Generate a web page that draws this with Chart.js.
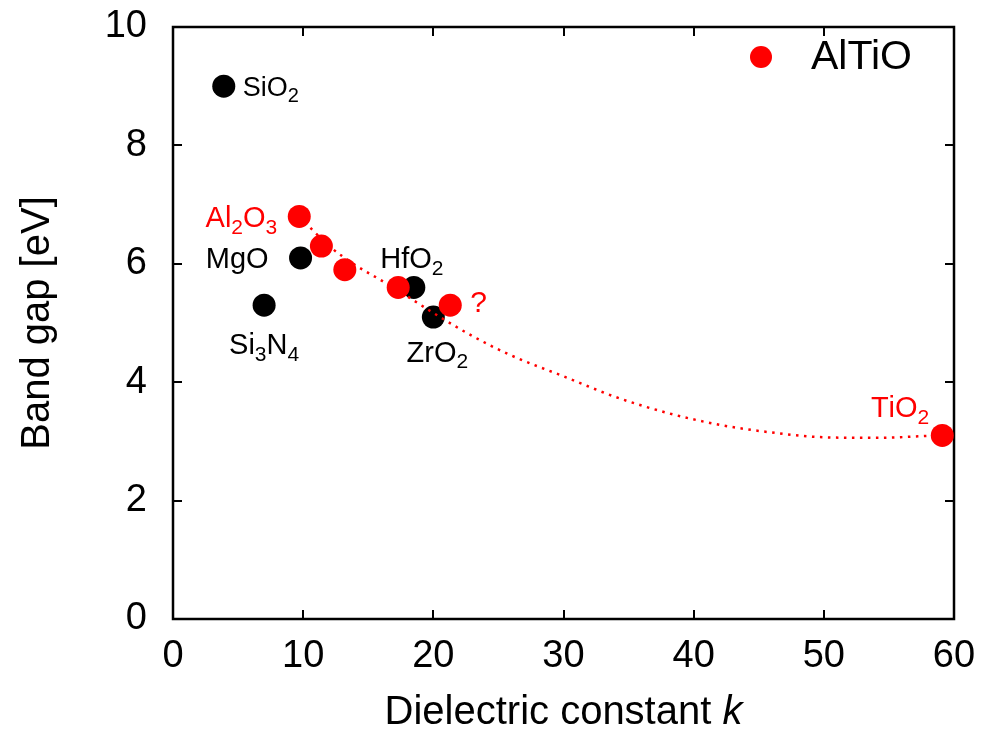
<!DOCTYPE html>
<html>
<head>
<meta charset="utf-8">
<script src="https://cdn.jsdelivr.net/npm/chart.js@4.4.0/dist/chart.umd.min.js"></script>
<style>
  body { margin: 0; background: #fff; }
</style>
</head>
<body>
<canvas id="gapChart" width="987" height="738"></canvas>
<script>
// conventional dielectrics
const oxideNames = ['SiO_2', 'Si_3N_4', 'MgO', 'HfO_2', 'ZrO_2'];
const oxideK = [3.9, 7.0, 9.8, 18.5, 20.0];
const oxideGap = [9.0, 5.3, 6.1, 5.6, 5.1];

// AlTiO compositions, Al2O3 end to TiO2 end
const altioK = [9.7, 11.4, 13.2, 17.3, 21.3, 59.1];
const altioGap = [6.8, 6.3, 5.9, 5.6, 5.3, 3.1];

// dotted trend through the AlTiO series
const trendK = [9.7, 12, 14, 16, 18, 20, 23, 26, 30, 34, 38, 42, 46, 50, 54, 58.6];
const trendGap = [6.8, 6.3, 5.98, 5.72, 5.45, 5.17, 4.78, 4.45, 4.1, 3.75, 3.48, 3.28, 3.15, 3.07, 3.06, 3.1];

const xTicks = [0, 10, 20, 30, 40, 50, 60];
const yTicks = [0, 2, 4, 6, 8, 10];

const FONT = '"Liberation Sans", Arial, Helvetica, sans-serif';
const RED = '#ff0000';

const toXY = (xs, ys) => xs.map((v, i) => ({ x: v, y: ys[i] }));

// text with "_n" subscripts, vertically centred on y
function drawRich(ctx, text, x, y, align, size, color) {
  const parts = [];
  for (let i = 0; i < text.length; i++) {
    if (text[i] === '_') { parts.push({ s: text[i + 1], sub: true }); i++; }
    else parts.push({ s: text[i], sub: false });
  }
  const main = size + 'px ' + FONT;
  const small = Math.round(size * 0.74) + 'px ' + FONT;
  let w = 0;
  parts.forEach(p => { ctx.font = p.sub ? small : main; p.w = ctx.measureText(p.s).width; w += p.w; });
  let cx = align === 'left' ? x : align === 'right' ? x - w : x - w / 2;
  const base = y + size * 0.36;
  ctx.fillStyle = color;
  ctx.textAlign = 'left';
  ctx.textBaseline = 'alphabetic';
  parts.forEach(p => {
    ctx.font = p.sub ? small : main;
    ctx.fillText(p.s, cx, p.sub ? base + size * 0.24 : base);
    cx += p.w;
  });
}

const notes = [
  { text: oxideNames[0], k: oxideK[0], g: oxideGap[0], dx: 19, dy: 0, align: 'left', color: '#000', size: 27 },
  { text: oxideNames[1], k: oxideK[1], g: oxideGap[1], dx: 0, dy: 38, align: 'center', color: '#000', size: 29 },
  { text: oxideNames[2], k: oxideK[2], g: oxideGap[2], dx: -32, dy: 0, align: 'right', color: '#000', size: 29 },
  { text: oxideNames[3], k: oxideK[3], g: oxideGap[3], dx: -2, dy: -30, align: 'center', color: '#000', size: 29 },
  { text: oxideNames[4], k: oxideK[4], g: oxideGap[4], dx: 4, dy: 34, align: 'center', color: '#000', size: 29 },
  { text: 'Al_2O_3', k: altioK[0], g: altioGap[0], dx: -22, dy: 0, align: 'right', color: RED, size: 29 },
  { text: '?', k: altioK[4], g: altioGap[4], dx: 20, dy: -4, align: 'left', color: RED, size: 30 },
  { text: 'TiO_2', k: altioK[5], g: altioGap[5], dx: -13, dy: -29, align: 'right', color: RED, size: 29 }
];

const frame = {
  id: 'frame',
  beforeDatasetsDraw(chart) {
    const { ctx, chartArea: a, scales: { x, y } } = chart;
    ctx.save();
    ctx.strokeStyle = '#000';
    ctx.lineWidth = 2;
    ctx.beginPath();
    xTicks.forEach(v => {
      const px = Math.round(x.getPixelForValue(v));
      ctx.moveTo(px, a.bottom); ctx.lineTo(px, a.bottom - 9);
      ctx.moveTo(px, a.top); ctx.lineTo(px, a.top + 9);
    });
    yTicks.forEach(v => {
      const py = Math.round(y.getPixelForValue(v));
      ctx.moveTo(a.left, py); ctx.lineTo(a.left + 9, py);
      ctx.moveTo(a.right, py); ctx.lineTo(a.right - 9, py);
    });
    ctx.stroke();
    ctx.lineWidth = 2.5;
    ctx.strokeRect(a.left, a.top, a.width, a.height);
    ctx.restore();
  },
  afterDraw(chart) {
    const { ctx, chartArea: a, scales: { x, y } } = chart;
    ctx.save();
    notes.forEach(n => {
      drawRich(ctx, n.text, x.getPixelForValue(n.k) + n.dx, y.getPixelForValue(n.g) + n.dy, n.align, n.size, n.color);
    });

    // legend entry
    ctx.fillStyle = RED;
    ctx.beginPath();
    ctx.arc(a.right - 193, a.top + 30, 11, 0, Math.PI * 2);
    ctx.fill();
    ctx.fillStyle = '#000';
    ctx.font = '41px ' + FONT;
    ctx.textAlign = 'left';
    ctx.textBaseline = 'middle';
    ctx.fillText('AlTiO', a.right - 143, a.top + 31);

    // axis titles
    const title = '40px ' + FONT;
    const t1 = 'Dielectric constant ';
    ctx.font = 'italic 40px ' + FONT;
    const wk = ctx.measureText('k').width;
    ctx.font = title;
    const w1 = ctx.measureText(t1).width;
    const cx = (a.left + a.right) / 2;
    const sx = cx - (w1 + wk) / 2;
    ctx.fillText(t1, sx, 713);
    ctx.font = 'italic 40px ' + FONT;
    ctx.fillText('k', sx + w1, 713);

    ctx.font = title;
    ctx.textAlign = 'center';
    ctx.translate(38, (a.top + a.bottom) / 2);
    ctx.rotate(-Math.PI / 2);
    ctx.fillText('Band gap [eV]', 0, 0);
    ctx.restore();
  }
};

const ctx = document.getElementById('gapChart').getContext('2d');
const gapChart = new Chart(ctx, {
  type: 'scatter',
  data: {
    datasets: [
      {
        label: 'trend',
        type: 'line',
        data: toXY(trendK, trendGap),
        borderColor: RED,
        borderWidth: 2.5,
        borderDash: [2.5, 5.5],
        pointRadius: 0,
        cubicInterpolationMode: 'monotone',
        fill: false,
        clip: false,
        order: 0
      },
      {
        label: 'AlTiO',
        data: toXY(altioK, altioGap),
        backgroundColor: RED,
        borderWidth: 0,
        pointRadius: 11.5,
        clip: false,
        order: 1
      },
      {
        label: 'oxides',
        data: toXY(oxideK, oxideGap),
        backgroundColor: '#000',
        borderWidth: 0,
        pointRadius: 11.5,
        clip: false,
        order: 2
      }
    ]
  },
  options: {
    responsive: false,
    animation: false,
    layout: { padding: { left: 0, right: 33, top: 27, bottom: 0 } },
    plugins: {
      legend: { display: false },
      tooltip: { enabled: false }
    },
    scales: {
      x: {
        type: 'linear',
        min: 0,
        max: 60,
        afterBuildTicks: s => { s.ticks = xTicks.map(v => ({ value: v })); },
        afterFit: s => { s.height = 119; s.paddingLeft = 0; s.paddingRight = 0; },
        grid: { display: false, drawTicks: false },
        border: { display: false },
        ticks: {
          padding: 15,
          color: '#000',
          font: { family: FONT, size: 38 }
        }
      },
      y: {
        type: 'linear',
        min: 0,
        max: 10,
        afterBuildTicks: s => { s.ticks = yTicks.map(v => ({ value: v })); },
        afterFit: s => { s.width = 173; s.paddingTop = 0; s.paddingBottom = 0; },
        grid: { display: false, drawTicks: false },
        border: { display: false },
        ticks: {
          padding: 26,
          color: '#000',
          font: { family: FONT, size: 38 }
        }
      }
    }
  },
  plugins: [frame]
});
</script>
</body>
</html>
